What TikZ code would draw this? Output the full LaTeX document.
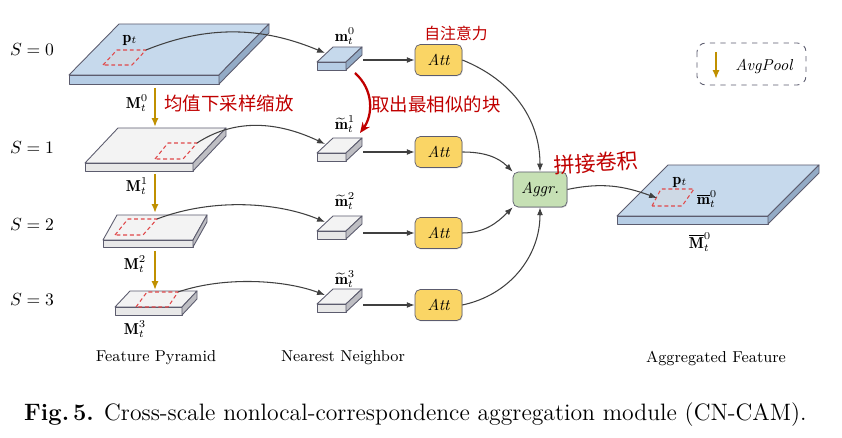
\documentclass[tikz,border=0pt]{standalone}
\usepackage{amsmath}
\usepackage{amssymb}
\usepackage{bm}
\usepackage{fontspec}
\newfontfamily\cjk{Noto Sans CJK SC}
\usepackage{tikz}
\usetikzlibrary{calc,arrows.meta,shadows}

\definecolor{slabline}{HTML}{5C5C6E}
\definecolor{blueslabtop}{HTML}{C6D9EC}
\definecolor{blueslabfront}{HTML}{B6CDE5}
\definecolor{blueslabside}{HTML}{93ABC6}
\definecolor{grayslabtop}{HTML}{F3F3F3}
\definecolor{grayslabfront}{HTML}{E8E8E8}
\definecolor{grayslabside}{HTML}{BEBEC3}
\definecolor{attfill}{HTML}{FAD565}
\definecolor{aggrfill}{HTML}{C6E0B4}
\definecolor{poolgold}{HTML}{C09000}
\definecolor{patchred}{HTML}{E0484A}
\definecolor{inkred}{HTML}{C00000}
\definecolor{linkgray}{HTML}{404040}

% slab: name, front-left x, y, width, back dx, back dy, thickness, colour
\newcommand{\slab}[8]{%
  \filldraw[slabedge, fill=#8top] (#2,#3) -- ++(#5,-#6) -- ++(#4,0) -- ++(-#5,#6) -- cycle;
  \filldraw[slabedge, fill=#8front] (#2,#3) rectangle ++(#4,#7);
  \filldraw[slabedge, fill=#8side] (#2+#4,#3) -- ++(#5,-#6) -- ++(0,#7) -- ++(-#5,#6) -- cycle;
  \coordinate (#1-e) at (#2+#4+#5+1,#3-#6/2+#7/2);
  \coordinate (#1-in) at (#2+#5/2,#3-#6*0.6);
}

\begin{document}
\begin{tikzpicture}[x=0.02cm,y=-0.02cm,
    slabedge/.style={draw=slabline,line width=0.5pt,line join=round},
    patch/.style={draw=patchred,line width=0.6pt,dash pattern=on 2.2pt off 1.6pt},
    att/.style={draw=slabline,fill=attfill,rounded corners=3pt,minimum width=0.94cm,minimum height=0.62cm,
      font=\small\itshape,drop shadow={shadow xshift=0.4pt,shadow yshift=-0.5pt,opacity=0.3}},
    aggr/.style={draw=slabline,fill=aggrfill,rounded corners=3pt,minimum width=1.08cm,minimum height=0.7cm,
      font=\small\itshape,drop shadow={shadow xshift=0.4pt,shadow yshift=-0.5pt,opacity=0.35}},
    link/.style={draw=linkgray,line width=0.6pt,-{Latex[length=4.5pt,width=3.4pt]}},
    pool/.style={draw=poolgold,line width=1pt,-{Latex[length=5pt,width=4pt]}},
    ink/.style={text=inkred,font=\cjk\fontsize{10.5}{12}\selectfont}]
  \useasboundingbox (0,0) rectangle (842,438);

  % scale labels
  \node (S0) at (32,50) {$S=0$};
  \node (S1) at (32,148) {$S=1$};
  \node (S2) at (32,225) {$S=2$};
  \node (S3) at (32,300) {$S=3$};

  % feature pyramid
  \slab{s0}{69}{75}{150}{50}{51}{9}{blueslab}
  \filldraw[patch,fill=blueslabside!45] (103,65) -- (117,50) -- (146,50) -- (132,65) -- cycle;
  \coordinate (pc0) at (146,50);
  \node[font=\small] (p0) at (130,40) {$\mathbf{p}_t$};

  \slab{s1}{85}{163}{108}{33}{35}{8}{grayslab}
  \draw[patch] (155,159) -- (168,143) -- (197,143) -- (183,159) -- cycle;
  \coordinate (pc1) at (197,143);

  \slab{s2}{103}{240}{90}{14}{25}{7}{grayslab}
  \draw[patch] (115,235) -- (128,219) -- (157,219) -- (143,235) -- cycle;
  \coordinate (pc2) at (157,219);

  \slab{s3}{115}{307}{67}{15}{16}{8}{grayslab}
  \draw[patch] (136,307) -- (147,292) -- (178,292) -- (168,307) -- cycle;
  \coordinate (pc3) at (178,292);

  \node[font=\small] (M0) at (137,103) {$\mathbf{M}_t^0$};
  \node[font=\small] (M1) at (137,186) {$\mathbf{M}_t^1$};
  \node[font=\small] (M2) at (135,264) {$\mathbf{M}_t^2$};
  \node[font=\small] (M3) at (135,329) {$\mathbf{M}_t^3$};

  \coordinate (g0) at (155,88);  \coordinate (g1) at (155,127);
  \coordinate (g2) at (155,174); \coordinate (g3) at (155,213);
  \coordinate (g4) at (155,251); \coordinate (g5) at (155,290);
  \draw[pool] (g0) -- (g1);
  \draw[pool] (g2) -- (g3);
  \draw[pool] (g4) -- (g5);

  % nearest neighbours
  \slab{n0}{317}{62}{29}{16}{15}{8}{blueslab}
  \slab{n1}{317}{153}{29}{16}{15}{8}{grayslab}
  \slab{n2}{317}{231}{29}{16}{15}{8}{grayslab}
  \slab{n3}{317}{304}{29}{16}{15}{8}{grayslab}
  \node[font=\small] (m0) at (345,36) {$\mathbf{m}_t^0$};
  \node[font=\small] (m1) at (345,124) {$\widetilde{\mathbf{m}}_t^1$};
  \node[font=\small] (m2) at (345,201) {$\widetilde{\mathbf{m}}_t^2$};
  \node[font=\small] (m3) at (345,279) {$\widetilde{\mathbf{m}}_t^3$};

  \draw[link] (pc0) .. controls (215,22) and (270,30) .. (n0-in);
  \draw[link] (pc1) .. controls (240,115) and (285,125) .. (n1-in);
  \draw[link] (pc2) .. controls (215,197) and (280,203) .. (n2-in);
  \draw[link] (pc3) .. controls (225,276) and (285,280) .. (n3-in);

  % attention
  \node[att] (att0) at (438.5,60) {Att};
  \node[att] (att1) at (438.5,152) {Att};
  \node[att] (att2) at (438.5,233) {Att};
  \node[att] (att3) at (438.5,305) {Att};
  \foreach \i in {0,...,3}
    \draw[link] (att\i.west -| n\i-e) -- (att\i.west);

  \node[aggr] (agg) at (540,189.5) {Aggr.};
  \draw[link] (att0.east) to[out=-22,in=90] (agg.north);
  \draw[link] (att1.east) to[out=0,in=135] (agg.north west);
  \draw[link] (att2.east) to[out=0,in=-135] (agg.south west);
  \draw[link] (att3.east) to[out=12,in=-90] (agg.south);

  % aggregated feature
  \slab{out}{617}{216}{151}{51}{51}{8}{blueslab}
  \filldraw[patch,fill=blueslabside!45] (652,206) -- (661,189) -- (694,189) -- (682,206) -- cycle;
  \coordinate (pco) at (657,198);
  \node[font=\small] (pout) at (680,182) {$\mathbf{p}_t$};
  \node[font=\small] (mbar) at (707,199) {$\overline{\mathbf{m}}_t^0$};
  \node[font=\small] (Mbar) at (700,242) {$\overline{\mathbf{M}}_t^0$};
  \draw[link] (agg.east) to[out=12,in=160] (pco);

  % legend
  \draw[slabline,dashed,rounded corners=5pt,line width=0.5pt] (697,43) rectangle (806,85);
  \coordinate (lg0) at (716,52); \coordinate (lg1) at (716,79);
  \draw[pool] (lg0) -- (lg1);
  \node[font=\small\itshape] (avg) at (764,66) {AvgPool};

  % column titles
  \node[font=\small] (fp) at (156,358) {Feature Pyramid};
  \node[font=\small] (nn) at (343,358) {Nearest Neighbor};
  \node[font=\small] (af) at (716,358) {Aggregated Feature};

  % handwritten notes
  \node[ink] (note0) at (229,103) {均值下采样缩放};
  \node[ink,font=\cjk\fontsize{9}{10}\selectfont] (note1) at (456,33) {自注意力};
  \node[ink] (note2) at (436,104) {取出最相似的块};
  \node[ink,font=\cjk\fontsize{12}{13}\selectfont,rotate=4] (note3) at (596,163) {拼接卷积};
  \coordinate (r0) at (355,73); \coordinate (r1) at (360,133);
  \draw[inkred,line width=1.3pt,-{Stealth[length=6pt,width=5pt]}] (r0) .. controls (374,90) and (373,115) .. (r1);

  % caption
  \node[anchor=west,font=\fontsize{13.5}{15}\selectfont] (cap) at (18,415)
    {\textbf{Fig.\,5.} Cross-scale nonlocal-correspondence aggregation module (CN-CAM).};
\end{tikzpicture}
\end{document}
